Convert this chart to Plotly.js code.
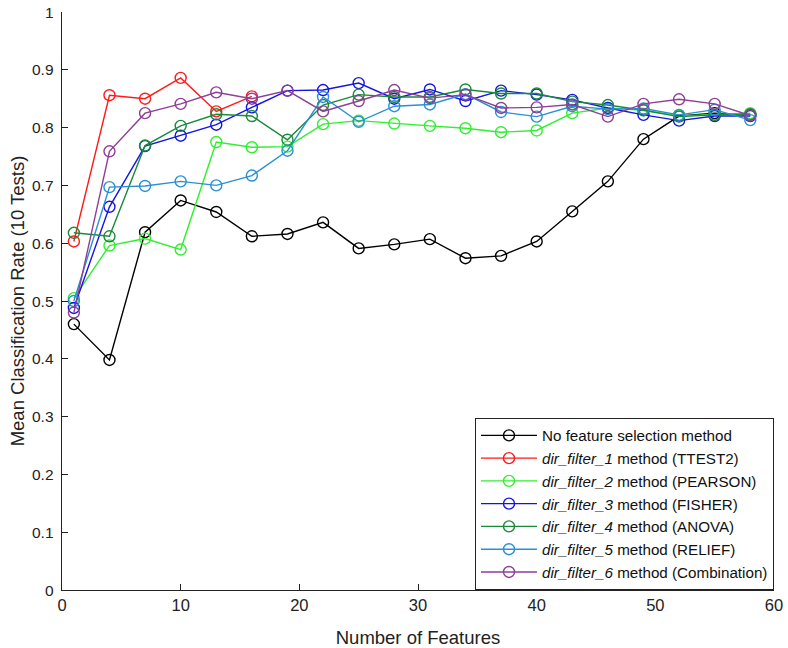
<!DOCTYPE html>
<html>
<head>
<meta charset="utf-8">
<script src="https://cdn.plot.ly/plotly-3.0.1.min.js"></script>
<style>html,body{margin:0;padding:0;background:#fff;}#chart{width:788px;height:648px;}</style>
</head>
<body>
<div id="chart"></div>
<script>
const features = [1,4,7,10,13,16,19,22,25,28,31,34,37,40,43,46,49,52,55,58];
const featuresTtest = [1,4,7,10,13,16];

const noSelection = [0.460,0.398,0.619,0.674,0.654,0.612,0.616,0.636,0.591,0.598,0.607,0.574,0.578,0.603,0.655,0.707,0.780,0.820,0.825,0.822];
const ttest2      = [0.603,0.856,0.850,0.886,0.828,0.854];
const pearson     = [0.505,0.596,0.608,0.589,0.775,0.766,0.767,0.806,0.812,0.807,0.803,0.799,0.792,0.795,0.825,0.834,0.830,0.820,0.822,0.825];
const fisher      = [0.488,0.663,0.768,0.786,0.805,0.835,0.864,0.865,0.877,0.850,0.866,0.846,0.864,0.857,0.848,0.834,0.822,0.812,0.820,0.820];
const anova       = [0.618,0.612,0.769,0.803,0.823,0.820,0.779,0.839,0.857,0.853,0.853,0.866,0.859,0.859,0.845,0.839,0.830,0.819,0.822,0.823];
const relief      = [0.500,0.697,0.699,0.707,0.700,0.717,0.760,0.853,0.810,0.837,0.840,0.858,0.827,0.819,0.837,0.832,0.833,0.822,0.831,0.813];
const combination = [0.480,0.759,0.825,0.841,0.861,0.850,0.864,0.828,0.846,0.865,0.851,0.857,0.834,0.835,0.840,0.819,0.841,0.849,0.841,0.821];

const yTickVals = [0,0.1,0.2,0.3,0.4,0.5,0.6,0.7,0.8,0.9,1];
const yTickText = ['0','0.1','0.2','0.3','0.4','0.5','0.6','0.7','0.8','0.9','1'];

const seriesNames = [
  'No feature selection method',
  '<i>dir_filter_1</i> method (TTEST2)',
  '<i>dir_filter_2</i> method (PEARSON)',
  '<i>dir_filter_3</i> method (FISHER)',
  '<i>dir_filter_4</i> method (ANOVA)',
  '<i>dir_filter_5</i> method (RELIEF)',
  '<i>dir_filter_6</i> method (Combination)'
];
const seriesColors = ['#000000','#ff1a1a','#2ef02e','#1414e6','#1a8a3a','#2a8fd4','#8e3f96'];
const seriesX = [features, featuresTtest, features, features, features, features, features];
const seriesY = [noSelection, ttest2, pearson, fisher, anova, relief, combination];

const traces = seriesY.map((y, i) => ({
  type: 'scatter',
  mode: 'lines+markers',
  x: seriesX[i],
  y: y,
  name: seriesNames[i],
  line: {color: seriesColors[i], width: 1.4},
  marker: {symbol: 'circle-open', size: 11, color: seriesColors[i], line: {width: 1.4, color: seriesColors[i]}}
}));

const font = 'Liberation Sans, Arial, sans-serif';

// y tick labels placed on the y axis scale, set a little off the axis line as in the original
const yLabelAnnotations = yTickVals.map((v, i) => ({
  xref: 'paper', yref: 'y', x: 0, y: v,
  xanchor: 'right', yanchor: 'middle', xshift: -6,
  text: yTickText[i], showarrow: false,
  font: {family: font, size: 15.5, color: '#222'}
}));

const layout = {
  width: 788, height: 648,
  margin: {l: 62, r: 14, t: 12, b: 58},
  paper_bgcolor: '#fff', plot_bgcolor: '#fff',
  font: {family: font, size: 16, color: '#222'},
  showlegend: true,
  legend: {
    x: 1, y: 0, xanchor: 'right', yanchor: 'bottom',
    bgcolor: '#fff', bordercolor: '#222', borderwidth: 1,
    font: {family: font, size: 15.2, color: '#111'},
    tracegroupgap: 0, itemwidth: 56
  },
  xaxis: {
    range: [0, 60], dtick: 10, showgrid: false, zeroline: false,
    showline: true, linecolor: '#222', linewidth: 1,
    ticks: 'inside', ticklen: 6, tickcolor: '#222',
    tickfont: {family: font, size: 16.5, color: '#222'},
    title: {text: 'Number of Features', font: {family: font, size: 18.5, color: '#222'}}
  },
  yaxis: {
    range: [0, 1], showgrid: false, zeroline: false,
    showline: true, linecolor: '#222', linewidth: 1,
    ticks: 'inside', ticklen: 6, tickcolor: '#222',
    tickmode: 'array', tickvals: yTickVals, showticklabels: false,
    title: {text: 'Mean Classification Rate (10 Tests)', font: {family: font, size: 18.5, color: '#222'}}
  },
  annotations: yLabelAnnotations
};

Plotly.newPlot('chart', traces, layout, {displayModeBar: false, staticPlot: true});
</script>
</body>
</html>
